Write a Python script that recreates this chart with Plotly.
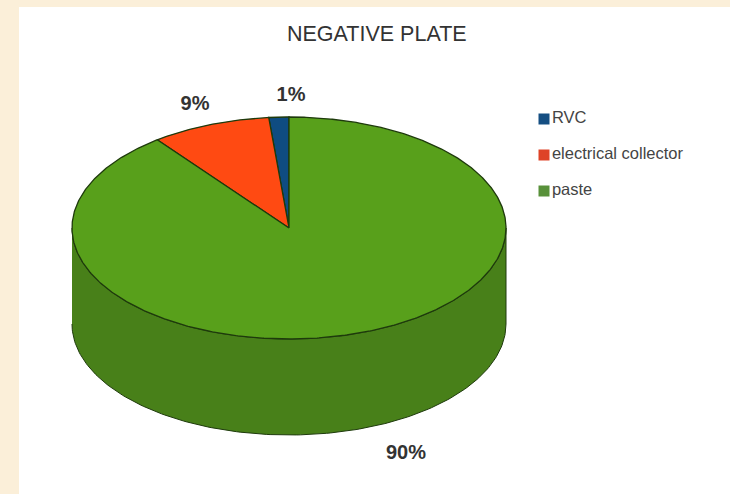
import numpy as np
import plotly.graph_objects as go

title = "NEGATIVE PLATE"
categories = ["RVC", "electrical collector", "paste"]
values = [1.49, 8.9, 89.61]
top_colors = ["#0F4C81", "#FF4A12", "#58A01B"]
key_colors = ["#154E82", "#DE4327", "#58913A"]
wall_color = "#488019"
edge_color = "#1E3A0C"
text_color = "#333333"

W, H = 730, 494
CX, CY, RX, RY, DEPTH = 289, 228, 217, 111, 96
key_x, key_y = 544, [119, 155, 191]
label_pos = [(291, 96), (195, 105), (406, 454)]


def pt(deg):
    a = np.radians(deg)
    return CX - RX * np.sin(a), CY - RY * np.cos(a)


fig = go.Figure()

# Cylinder wall, below the front half of the top ellipse
arc = np.linspace(90, 270, 181)
ax_, ay_ = pt(arc)
fig.add_trace(go.Scatter(
    x=np.r_[ax_, ax_[::-1]], y=np.r_[ay_, ay_[::-1] + DEPTH],
    mode="lines", fill="toself", fillcolor=wall_color,
    line=dict(color=edge_color, width=1), hoverinfo="skip", showlegend=False))

# Top slices: counter-clockwise from 12 o'clock, angles derived from values
total = sum(values)
start = 0.0
for name, v, col in zip(categories, values, top_colors):
    sweep = 360 * v / total
    t = np.linspace(start, start + sweep, max(int(sweep) * 2, 3))
    px, py = pt(t)
    fig.add_trace(go.Scatter(
        x=np.r_[CX, px, CX], y=np.r_[CY, py, CY],
        mode="lines", fill="toself", fillcolor=col,
        line=dict(color=edge_color, width=1.3), name=name, showlegend=False))
    start += sweep

# Percentage labels, from values
fig.add_trace(go.Scatter(
    x=[p[0] for p in label_pos], y=[p[1] for p in label_pos],
    mode="text", text=[f"{round(v)}%" for v in values],
    textfont=dict(family="Liberation Sans", size=20, color=text_color, weight="bold"),
    hoverinfo="skip", showlegend=False))

# Key
fig.add_trace(go.Scatter(
    x=[key_x] * 3, y=key_y, mode="markers+text",
    marker=dict(symbol="square", size=11, color=key_colors),
    text=categories, textposition="middle right",
    textfont=dict(family="Liberation Sans", size=16.5, color="#444444"),
    hoverinfo="skip", showlegend=False))

fig.update_layout(
    width=W, height=H, margin=dict(l=0, r=0, t=0, b=0),
    paper_bgcolor="#FBEFD9", plot_bgcolor="rgba(0,0,0,0)",
    xaxis=dict(range=[0, W], visible=False, fixedrange=True),
    yaxis=dict(range=[H, 0], visible=False, fixedrange=True),
    showlegend=False,
    shapes=[dict(type="rect", xref="x", yref="y", x0=19, x1=W, y0=7, y1=H,
                 fillcolor="white", line_width=0, layer="below")],
    annotations=[dict(x=377, y=34, xref="x", yref="y", text=title, showarrow=False,
                      font=dict(family="Liberation Sans", size=21.5, color="#333333"))],
)
fig.write_html("out.html", config={"displayModeBar": False},
               post_script="document.body.style.margin='0';document.body.style.overflow='hidden';")
